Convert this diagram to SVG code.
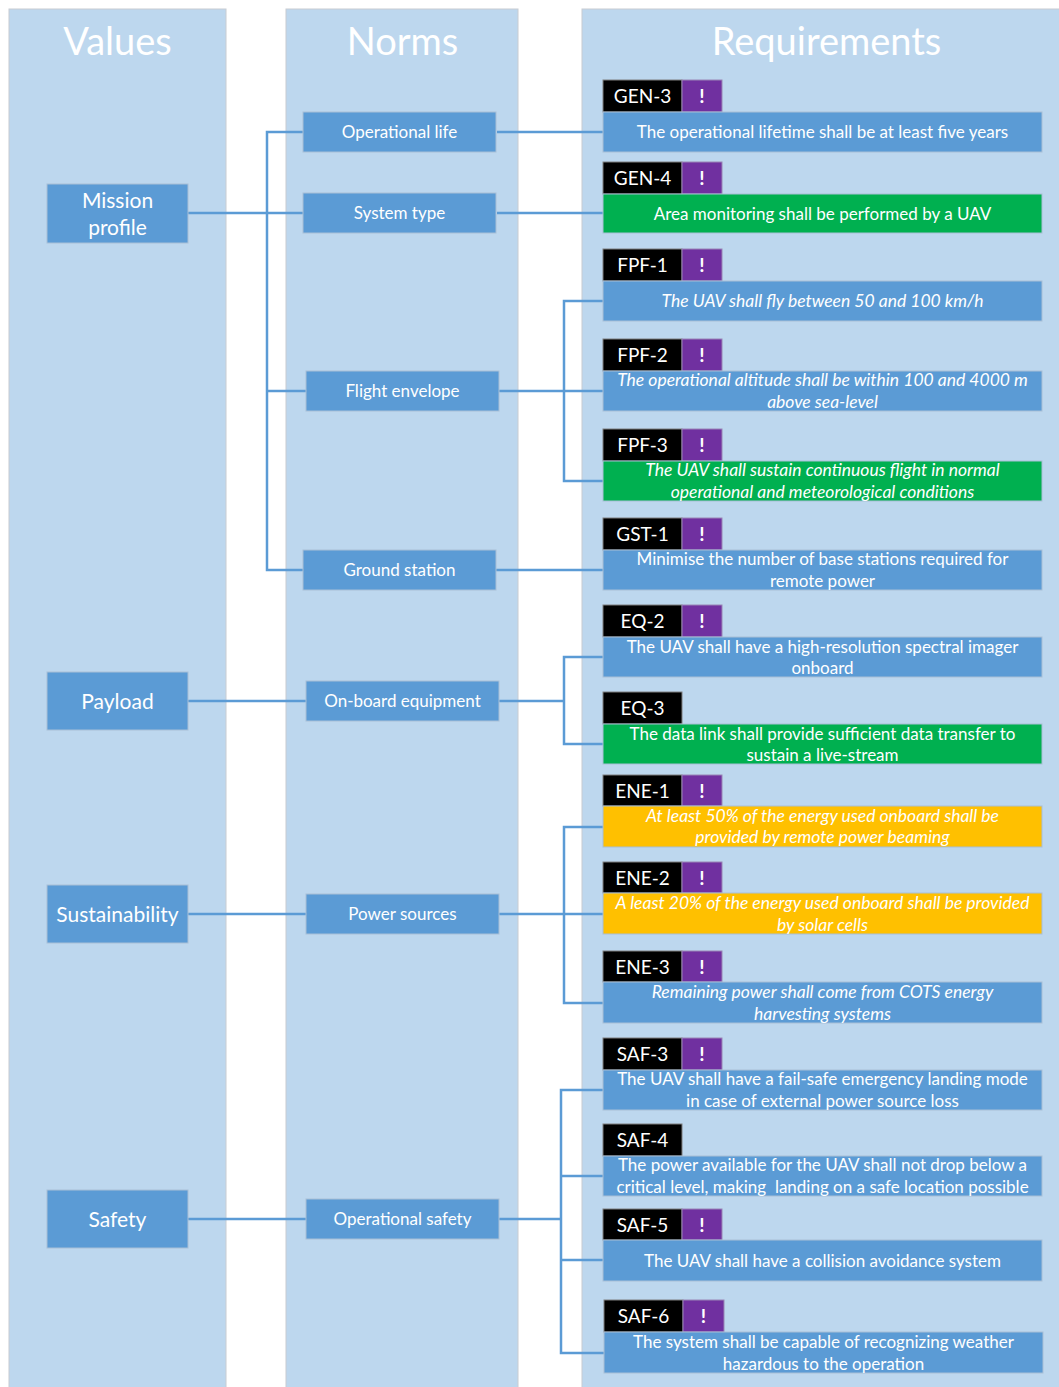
<svg xmlns="http://www.w3.org/2000/svg" width="1059" height="1387" viewBox="0 0 1059 1387">
  <style>
    text { font-family: Lato, "Liberation Sans", sans-serif; fill: #ffffff; text-anchor: middle; }
    .col { fill: #bdd7ee; stroke: #c8ccd2; stroke-width: 1; }
    .head { font-size: 38px; font-weight: 400; }
    .box { fill: #5b9bd5; stroke: #a9bfd6; stroke-width: 1; }
    .green { fill: #00b050; stroke: #a9bfd6; stroke-width: 1; }
    .yellow { fill: #ffc000; stroke: #a9bfd6; stroke-width: 1; }
    .tag { fill: #000000; stroke: #7f7f7f; stroke-width: 1; }
    .flag { fill: #7030a0; stroke: #9a86b5; stroke-width: 1; }
    .val { font-size: 21px; }
    .norm { font-size: 17px; }
    .req { font-size: 17px; }
    .it { font-style: italic; font-size: 17.5px; }
    .tagt { font-size: 19px; }
    .flagt { font-size: 19px; font-weight: bold; }
    .link { fill: none; stroke: #5b9bd5; stroke-width: 2.5; }
  </style>

  <!-- column backgrounds -->
  <g id="columns">
    <rect class="col" x="9" y="9" width="217" height="1390"/>
    <rect class="col" x="286" y="9" width="232" height="1390"/>
    <rect class="col" x="582" y="9" width="480" height="1390"/>
    <text class="head" x="117.5" y="55">Values</text>
    <text class="head" x="402.5" y="55">Norms</text>
    <text class="head" x="826.5" y="55">Requirements</text>
  </g>

  <!-- connectors -->
  <g id="connectors">
    <!-- Mission profile tree -->
    <path class="link" d="M188 213 H303"/>
    <path class="link" d="M303 132 H267 V570 H303"/>
    <path class="link" d="M267 391 H306"/>
    <path class="link" d="M497 132 H603"/>
    <path class="link" d="M497 213 H603"/>
    <path class="link" d="M496 570 H603"/>
    <!-- Flight envelope -->
    <path class="link" d="M499 391 H603"/>
    <path class="link" d="M603 301 H564 V481 H603"/>
    <!-- Payload -->
    <path class="link" d="M188 701 H306"/>
    <path class="link" d="M499 701 H564"/>
    <path class="link" d="M603 657 H564 V744 H603"/>
    <!-- Sustainability -->
    <path class="link" d="M188 914 H306"/>
    <path class="link" d="M499 914 H603"/>
    <path class="link" d="M603 827 H564 V1003 H603"/>
    <!-- Safety -->
    <path class="link" d="M188 1219 H306"/>
    <path class="link" d="M499 1219 H561"/>
    <path class="link" d="M603 1090 H561 V1353 H604"/>
    <path class="link" d="M561 1176 H603"/>
    <path class="link" d="M561 1260 H603"/>
  </g>

  <!-- values -->
  <g id="v-mission">
    <rect class="box" x="47" y="184" width="141" height="59"/>
    <text class="val" x="117.5" y="207.5">Mission</text>
    <text class="val" x="117.5" y="234.5">profile</text>
  </g>
  <g id="v-payload">
    <rect class="box" x="47" y="672" width="141" height="58"/>
    <text class="val" x="117.5" y="708.5">Payload</text>
  </g>
  <g id="v-sustainability">
    <rect class="box" x="47" y="885" width="141" height="58"/>
    <text class="val" x="117.5" y="921.5">Sustainability</text>
  </g>
  <g id="v-safety">
    <rect class="box" x="47" y="1190" width="141" height="58"/>
    <text class="val" x="117.5" y="1226.5">Safety</text>
  </g>

  <!-- norms -->
  <g id="n-oplife">
    <rect class="box" x="303" y="112" width="193" height="40"/>
    <text class="norm" x="399.5" y="138">Operational life</text>
  </g>
  <g id="n-systype">
    <rect class="box" x="303" y="193" width="193" height="40"/>
    <text class="norm" x="399.5" y="219">System type</text>
  </g>
  <g id="n-flight">
    <rect class="box" x="306" y="371" width="193" height="40"/>
    <text class="norm" x="402.5" y="397">Flight envelope</text>
  </g>
  <g id="n-ground">
    <rect class="box" x="303" y="550" width="193" height="40"/>
    <text class="norm" x="399.5" y="576">Ground station</text>
  </g>
  <g id="n-onboard">
    <rect class="box" x="306" y="681" width="193" height="40"/>
    <text class="norm" x="402.5" y="707">On-board equipment</text>
  </g>
  <g id="n-power">
    <rect class="box" x="306" y="894" width="193" height="40"/>
    <text class="norm" x="402.5" y="920">Power sources</text>
  </g>
  <g id="n-opsafety">
    <rect class="box" x="306" y="1199" width="193" height="40"/>
    <text class="norm" x="402.5" y="1225">Operational safety</text>
  </g>

  <!-- requirements -->
  <g id="r-gen3">
    <rect class="tag" x="603" y="80" width="79" height="32"/>
    <rect class="flag" x="682" y="80" width="40" height="32"/>
    <text class="tagt" x="642.5" y="103">GEN-3</text>
    <text class="flagt" x="702" y="103">!</text>
    <rect class="box" x="603" y="112" width="439" height="40"/>
    <text class="req" x="822.5" y="138">The operational lifetime shall be at least five years</text>
  </g>
  <g id="r-gen4">
    <rect class="tag" x="603" y="162" width="79" height="32"/>
    <rect class="flag" x="682" y="162" width="40" height="32"/>
    <text class="tagt" x="642.5" y="185">GEN-4</text>
    <text class="flagt" x="702" y="185">!</text>
    <rect class="green" x="603" y="194" width="439" height="39"/>
    <text class="req" x="822.5" y="219.5">Area monitoring shall be performed by a UAV</text>
  </g>
  <g id="r-fpf1">
    <rect class="tag" x="603" y="249" width="79" height="32"/>
    <rect class="flag" x="682" y="249" width="40" height="32"/>
    <text class="tagt" x="642.5" y="272">FPF-1</text>
    <text class="flagt" x="702" y="272">!</text>
    <rect class="box" x="603" y="281" width="439" height="40"/>
    <text class="req it" x="822.5" y="307">The UAV shall fly between 50 and 100 km/h</text>
  </g>
  <g id="r-fpf2">
    <rect class="tag" x="603" y="339" width="79" height="32"/>
    <rect class="flag" x="682" y="339" width="40" height="32"/>
    <text class="tagt" x="642.5" y="362">FPF-2</text>
    <text class="flagt" x="702" y="362">!</text>
    <rect class="box" x="603" y="371" width="439" height="40"/>
    <text class="req it" x="822.5" y="386">The operational altitude shall be within 100 and 4000 m</text>
    <text class="req it" x="822.5" y="408">above sea-level</text>
  </g>
  <g id="r-fpf3">
    <rect class="tag" x="603" y="429" width="79" height="32"/>
    <rect class="flag" x="682" y="429" width="40" height="32"/>
    <text class="tagt" x="642.5" y="452">FPF-3</text>
    <text class="flagt" x="702" y="452">!</text>
    <rect class="green" x="603" y="461" width="439" height="40"/>
    <text class="req it" x="822.5" y="476">The UAV shall sustain continuous flight in normal</text>
    <text class="req it" x="822.5" y="498">operational and meteorological conditions</text>
  </g>
  <g id="r-gst1">
    <rect class="tag" x="603" y="518" width="79" height="32"/>
    <rect class="flag" x="682" y="518" width="40" height="32"/>
    <text class="tagt" x="642.5" y="541">GST-1</text>
    <text class="flagt" x="702" y="541">!</text>
    <rect class="box" x="603" y="550" width="439" height="40"/>
    <text class="req" x="822.5" y="565">Minimise the number of base stations required for</text>
    <text class="req" x="822.5" y="587">remote power</text>
  </g>
  <g id="r-eq2">
    <rect class="tag" x="603" y="605" width="79" height="32"/>
    <rect class="flag" x="682" y="605" width="40" height="32"/>
    <text class="tagt" x="642.5" y="628">EQ-2</text>
    <text class="flagt" x="702" y="628">!</text>
    <rect class="box" x="603" y="637" width="439" height="40"/>
    <text class="req" x="822.5" y="653">The UAV shall have a high-resolution spectral imager</text>
    <text class="req" x="822.5" y="674">onboard</text>
  </g>
  <g id="r-eq3">
    <rect class="tag" x="603" y="692" width="79" height="32"/>
    <text class="tagt" x="642.5" y="715">EQ-3</text>
    <rect class="green" x="603" y="724" width="439" height="40"/>
    <text class="req" x="822.5" y="739.5">The data link shall provide sufficient data transfer to</text>
    <text class="req" x="822.5" y="760.5">sustain a live-stream</text>
  </g>
  <g id="r-ene1">
    <rect class="tag" x="603" y="775" width="79" height="31"/>
    <rect class="flag" x="682" y="775" width="40" height="31"/>
    <text class="tagt" x="642.5" y="798">ENE-1</text>
    <text class="flagt" x="702" y="798">!</text>
    <rect class="yellow" x="603" y="806" width="439" height="41"/>
    <text class="req it" x="822.5" y="822">At least 50% of the energy used onboard shall be</text>
    <text class="req it" x="822.5" y="843">provided by remote power beaming</text>
  </g>
  <g id="r-ene2">
    <rect class="tag" x="603" y="862" width="79" height="31"/>
    <rect class="flag" x="682" y="862" width="40" height="31"/>
    <text class="tagt" x="642.5" y="885">ENE-2</text>
    <text class="flagt" x="702" y="885">!</text>
    <rect class="yellow" x="603" y="893" width="439" height="41"/>
    <text class="req it" x="822.5" y="909">A least 20% of the energy used onboard shall be provided</text>
    <text class="req it" x="822.5" y="931">by solar cells</text>
  </g>
  <g id="r-ene3">
    <rect class="tag" x="603" y="951" width="79" height="31"/>
    <rect class="flag" x="682" y="951" width="40" height="31"/>
    <text class="tagt" x="642.5" y="974">ENE-3</text>
    <text class="flagt" x="702" y="974">!</text>
    <rect class="box" x="603" y="982" width="439" height="41"/>
    <text class="req it" x="822.5" y="998">Remaining power shall come from COTS energy</text>
    <text class="req it" x="822.5" y="1020">harvesting systems</text>
  </g>
  <g id="r-saf3">
    <rect class="tag" x="603" y="1038" width="79" height="32"/>
    <rect class="flag" x="682" y="1038" width="40" height="32"/>
    <text class="tagt" x="642.5" y="1061">SAF-3</text>
    <text class="flagt" x="702" y="1061">!</text>
    <rect class="box" x="603" y="1070" width="439" height="40"/>
    <text class="req" x="822.5" y="1085">The UAV shall have a fail-safe emergency landing mode</text>
    <text class="req" x="822.5" y="1107">in case of external power source loss</text>
  </g>
  <g id="r-saf4">
    <rect class="tag" x="603" y="1124" width="79" height="32"/>
    <text class="tagt" x="642.5" y="1147">SAF-4</text>
    <rect class="box" x="603" y="1156" width="439" height="40"/>
    <text class="req" x="822.5" y="1171">The power available for the UAV shall not drop below a</text>
    <text class="req" x="822.5" y="1193" xml:space="preserve">critical level, making  landing on a safe location possible</text>
  </g>
  <g id="r-saf5">
    <rect class="tag" x="603" y="1209" width="79" height="31"/>
    <rect class="flag" x="682" y="1209" width="40" height="31"/>
    <text class="tagt" x="642.5" y="1232">SAF-5</text>
    <text class="flagt" x="702" y="1232">!</text>
    <rect class="box" x="603" y="1240" width="439" height="41"/>
    <text class="req" x="822.5" y="1266.5">The UAV shall have a collision avoidance system</text>
  </g>
  <g id="r-saf6">
    <rect class="tag" x="604" y="1300" width="79" height="32"/>
    <rect class="flag" x="683" y="1300" width="41" height="32"/>
    <text class="tagt" x="643.5" y="1323">SAF-6</text>
    <text class="flagt" x="703.5" y="1323">!</text>
    <rect class="box" x="604" y="1332" width="439" height="41"/>
    <text class="req" x="823.5" y="1348">The system shall be capable of recognizing weather</text>
    <text class="req" x="823.5" y="1370">hazardous to the operation</text>
  </g>
</svg>
